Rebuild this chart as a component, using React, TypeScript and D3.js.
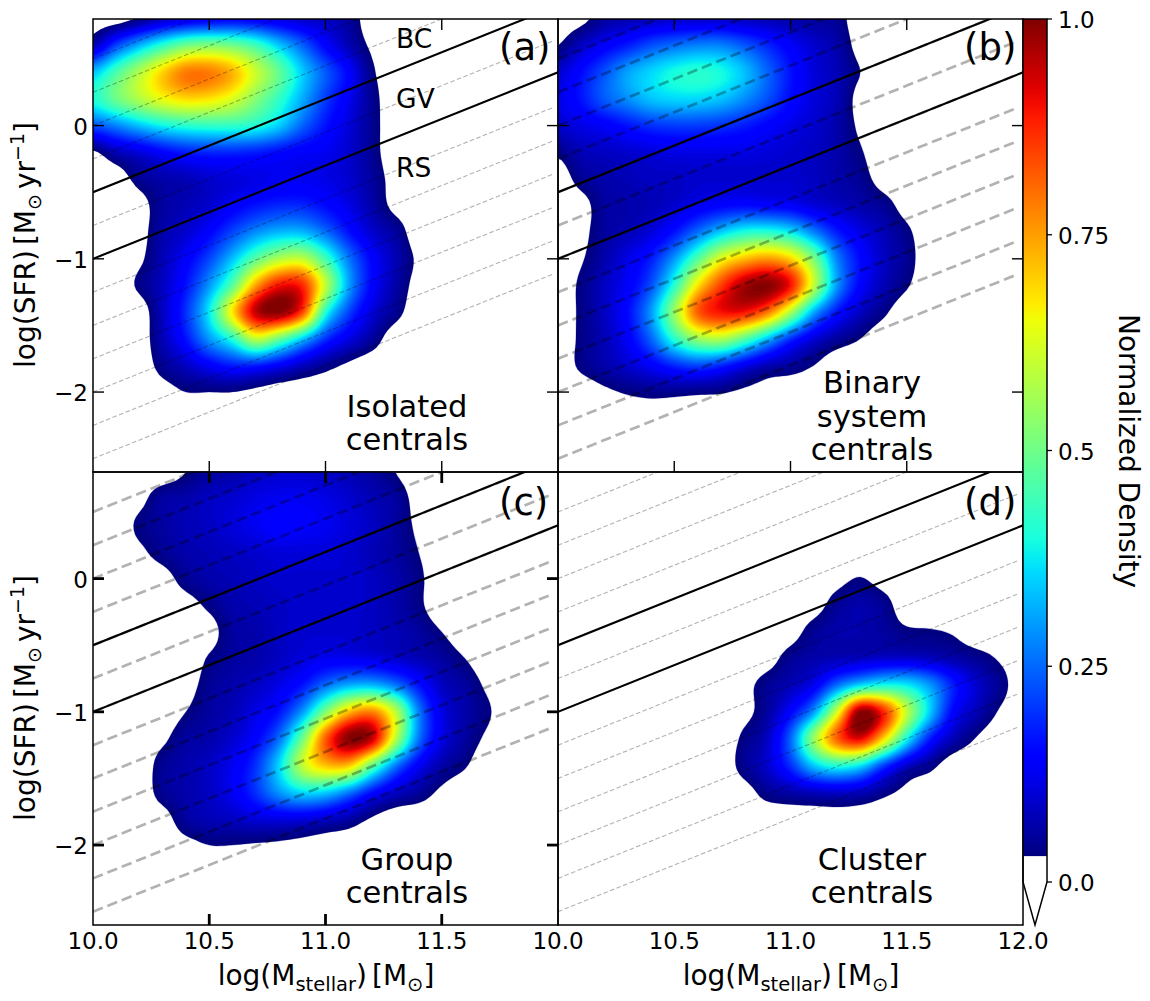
import { useMemo } from "react";
import * as d3 from "d3";

// grid of the density maps: one column every 0.1 dex, one row every 0.2 dex
const gridX = [10, 10.1, 10.2, 10.3, 10.4, 10.5, 10.6, 10.7, 10.8, 10.9, 11, 11.1, 11.2, 11.3, 11.4, 11.5, 11.6, 11.7, 11.8, 11.9, 12];
const gridY = [0.8, 0.6, 0.4, 0.2, 0, -0.2, -0.4, -0.6, -0.8, -1, -1.2, -1.4, -1.6, -1.8, -2, -2.2, -2.4, -2.6];

// density in percent, rows top to bottom, columns left to right; short rows are 0 further right
const isolatedDensity = [
  [0, 0, 4, 9, 12, 14, 15, 14, 12, 10, 9, 6, 0],
  [8, 22, 33, 43, 51, 53, 51, 45, 35, 25, 15, 8, 2],
  [34, 46, 58, 70, 79, 79, 73, 61, 49, 35, 24, 15, 4],
  [41, 50, 58, 65, 69, 68, 63, 53, 43, 32, 21, 13, 5],
  [23, 28, 34, 39, 42, 43, 43, 41, 35, 25, 17, 11, 5],
  [2, 8, 11, 15, 18, 19, 19, 18, 16, 14, 13, 10, 5],
  [0, 0, 5, 7, 8, 10, 11, 12, 13, 13, 12, 10, 6, 1],
  [0, 0, 1, 6, 8, 10, 14, 17, 19, 19, 16, 12, 7, 1.5],
  [0, 0, 1, 7, 10, 15, 22, 29, 33, 33, 26, 17, 10, 6],
  [0, 0, 2, 8, 14, 22, 34, 48, 58, 60, 45, 27, 15, 8, 2],
  [0, 0, 4, 9, 17, 30, 48, 75, 90, 88, 60, 31, 15, 7, 1],
  [0, 0, 0, 9, 20, 38, 68, 95, 100, 85, 42, 22, 11, 5],
  [0, 0, 0, 8, 17, 30, 42, 60, 50, 35, 20, 12, 6],
  [0, 0, 0, 5, 9, 14, 18, 18, 14, 9, 5, 2],
  [0, 0, 0, 1, 3, 3, 3, 1.5],
  [],
  [],
  [],
];

const binaryDensity = [
  [0, 1.5, 6, 8, 9, 10, 10, 10, 9, 8, 7, 6, 5],
  [3, 9, 14, 18, 23, 26, 28, 28, 24, 19, 14, 10, 7, 1],
  [10, 16, 23, 31, 36, 40, 42, 40, 34, 25, 17, 11, 8, 3],
  [12, 17, 24, 29, 34, 36, 36, 34, 29, 23, 16, 11, 8, 1],
  [10, 12, 14, 17, 20, 21, 21, 20, 18, 15, 12, 10, 7, 2],
  [4, 8, 9, 10, 11, 12, 12, 12, 12, 11, 10, 9, 7, 3.5],
  [0, 5, 7, 8, 9, 9, 10, 10, 10, 10, 10, 9, 7, 5, 1],
  [0, 1, 6, 7, 8, 10, 13, 15, 16, 15, 14, 11, 9, 7, 5, 1],
  [0, 1.5, 6, 8, 11, 17, 26, 35, 41, 42, 38, 28, 18, 12, 8, 4],
  [0, 2.5, 7, 12, 18, 30, 47, 64, 72, 76, 70, 52, 28, 16, 9, 5],
  [0, 4, 9, 14, 23, 42, 68, 85, 97, 100, 90, 60, 30, 15, 8, 3.5],
  [0, 4, 9, 16, 30, 55, 82, 90, 90, 80, 58, 32, 17, 9, 4],
  [0, 4, 8, 14, 25, 42, 55, 58, 48, 34, 20, 11, 6, 3],
  [0, 4, 7, 10, 14, 19, 22, 19, 13, 8, 6, 3],
  [0, 0, 2, 3.5, 4.5, 4.5, 4, 3.5, 2, 1],
  [],
  [],
  [],
];

const groupDensity = [
  [0, 0, 0, 0, 3, 6, 7, 9, 10, 10, 9, 8, 6, 3],
  [0, 0, 1.5, 6, 7, 9, 10, 12, 13, 13, 12, 10, 8, 6, 1],
  [0, 0, 4, 6, 8, 9, 11, 13, 15, 14, 13, 11, 9, 6, 2],
  [0, 0, 2, 5, 7, 8, 9, 10, 11, 11, 11, 10, 8, 6, 3],
  [0, 0, 0, 1, 5, 7, 8, 9, 10, 10, 10, 10, 9, 7, 4],
  [0, 0, 0, 0, 1, 4, 7, 8, 9, 10, 10, 10, 9, 7, 4],
  [0, 0, 0, 0, 0, 1, 6, 7, 9, 10, 10, 10, 9, 8, 6, 3],
  [0, 0, 0, 0, 0, 3.5, 6, 7, 9, 11, 13, 13, 12, 10, 8, 6, 3],
  [0, 0, 0, 0, 1, 5, 7, 9, 12, 17, 26, 32, 33, 27, 17, 9, 6, 2],
  [0, 0, 0, 0, 3, 6, 8, 12, 17, 30, 52, 72, 78, 60, 28, 12, 7, 3.5],
  [0, 0, 0, 2, 6, 7, 10, 15, 26, 50, 82, 100, 95, 60, 27, 12, 6, 2],
  [0, 0, 0, 5, 7, 9, 13, 20, 36, 60, 72, 72, 50, 28, 14, 7, 3.5],
  [0, 0, 0, 5, 7, 9, 13, 20, 30, 37, 36, 28, 17, 10, 6, 2],
  [0, 0, 0, 1, 6, 8, 9, 11, 12, 12, 10, 7, 2.5],
  [0, 0, 0, 0, 1.5, 3, 3, 2.5, 2, 1],
  [],
  [],
  [],
];

const clusterDensity = [
  [],
  [],
  [],
  [],
  [0, 0, 0, 0, 0, 0, 0, 0, 0, 0, 0, 0, 1.5, 3.2, 1],
  [0, 0, 0, 0, 0, 0, 0, 0, 0, 0, 0, 1, 5, 7, 5],
  [0, 0, 0, 0, 0, 0, 0, 0, 0, 0, 1, 5, 7, 7, 6, 4, 3.5, 2.5],
  [0, 0, 0, 0, 0, 0, 0, 0, 0, 1, 5, 7, 8, 9, 10, 10, 9, 7, 5, 2.5],
  [0, 0, 0, 0, 0, 0, 0, 0, 1.5, 5, 8, 13, 26, 36, 40, 38, 30, 18, 10, 5],
  [0, 0, 0, 0, 0, 0, 0, 0, 1.5, 6, 15, 30, 62, 100, 88, 60, 35, 15, 8, 2.5],
  [0, 0, 0, 0, 0, 0, 0, 0, 4, 9, 25, 55, 82, 92, 70, 40, 18, 8, 2.7],
  [0, 0, 0, 0, 0, 0, 0, 0, 5, 10, 20, 35, 42, 38, 22, 10, 5],
  [0, 0, 0, 0, 0, 0, 0, 0, 1, 5, 7, 9, 10, 9, 5, 1.5],
  [0, 0, 0, 0, 0, 0, 0, 0, 0, 0, 0.3, 0.5, 0.8, 0.5],
  [],
  [],
  [],
  [],
];

const xTicks = [10, 10.5, 11, 11.5];
const yTicks = [0, -1, -2];
const barTicks = [0, 0.25, 0.5, 0.75, 1];
const barTickLabels = ["0.0", "0.25", "0.5", "0.75", "1.0"];
// log(SFR) at log(M)=10 of the sloped guide lines
const guideOffsets = [0.5, 0.25, 0, -0.25, -0.5, -0.75, -1, -1.25, -1.5, -1.75, -2, -2.25, -2.5];
const boundaryOffsets = [-0.5, -1];
const guideSlope = 0.7;

const FONT = "DejaVu Sans";
const panelW = 465;
const panelH = 453;
const panelLeft = [93, 558];
const panelTop = [19, 472];
const upsample = 6;
const vMin = 0.03;

const xScale = d3.scaleLinear().domain([10, 12]).range([0, panelW]);
const yScale = d3.scaleLinear().domain([-2.6, 0.8]).range([panelH, 0]);

// matplotlib jet
const jetR = d3.scaleLinear().domain([0, 0.35, 0.66, 0.89, 1]).range([0, 0, 1, 1, 0.5]);
const jetG = d3.scaleLinear().domain([0, 0.125, 0.375, 0.64, 0.91, 1]).range([0, 0, 1, 1, 0, 0]);
const jetB = d3.scaleLinear().domain([0, 0.11, 0.34, 0.65, 1]).range([0.5, 1, 1, 0, 0]);
const jet = (t: number) => `rgb(${Math.round(jetR(t) * 255)},${Math.round(jetG(t) * 255)},${Math.round(jetB(t) * 255)})`;
// thin pale rim just below vMin, the image fades to white at its edge
const rimLevel = 0.029;
const densityColor = (v: number) => (v < vMin ? "#c4c4e2" : jet((v - vMin) / (1 - vMin)));

const levels = [rimLevel, ...d3.range(vMin, 1, 0.008)];

function catmull(a: number, b: number, c: number, d: number, t: number) {
  return 0.5 * (2 * b + (c - a) * t + (2 * a - 5 * b + 4 * c - d) * t * t + (3 * b - a - 3 * c + d) * t * t * t);
}

function refine(rows: number[][]) {
  const nx = gridX.length;
  const ny = gridY.length;
  const at = (i: number, j: number) => {
    const row = rows[Math.max(0, Math.min(ny - 1, j))];
    return (row[Math.max(0, Math.min(nx - 1, i))] ?? 0) / 100;
  };
  const w = (nx - 1) * upsample + 1;
  const h = (ny - 1) * upsample + 1;
  const out = new Array(w * h);
  for (let q = 0; q < h; q++) {
    const j = Math.floor(q / upsample);
    const v = q / upsample - j;
    for (let p = 0; p < w; p++) {
      const i = Math.floor(p / upsample);
      const u = p / upsample - i;
      const col = [-1, 0, 1, 2].map((dj) =>
        catmull(at(i - 1, j + dj), at(i, j + dj), at(i + 1, j + dj), at(i + 2, j + dj), u)
      );
      out[q * w + p] = Math.max(0, Math.min(1, catmull(col[0], col[1], col[2], col[3], v)));
    }
  }
  return { values: out, w, h };
}

function DensityMap({ rows }: { rows: number[][] }) {
  const paths = useMemo(() => {
    const { values, w, h } = refine(rows);
    const contours = d3.contours().size([w, h]).thresholds(levels)(values);
    const sx = d3.scaleLinear().domain([0.5, w - 0.5]).range([xScale(gridX[0]), xScale(gridX[gridX.length - 1])]);
    const sy = d3.scaleLinear().domain([0.5, h - 0.5]).range([yScale(gridY[0]), yScale(gridY[gridY.length - 1])]);
    const project = d3.geoTransform({
      point(x, y) {
        this.stream.point(sx(x), sy(y));
      },
    });
    const path = d3.geoPath(project);
    return contours.map((c) => ({ d: path(c) ?? "", fill: densityColor(c.value) }));
  }, [rows]);
  return (
    <g>
      {paths.map((p, i) => (
        <path key={i} d={p.d} fill={p.fill} />
      ))}
    </g>
  );
}

interface PanelProps {
  col: number;
  row: number;
  id: string;
  rows: number[][];
  title: string[];
  titleBaselines: number[];
  guideWidth: number;
  tickWidth: number;
  showTicks: boolean;
}

function Panel({ col, row, id, rows, title, titleBaselines, guideWidth, tickWidth, showTicks }: PanelProps) {
  const guideEnd = 11.98;
  const dash = guideWidth > 2 ? "10.5 5" : "4.6 2.4";
  const tickLen = 11;
  return (
    <g transform={`translate(${panelLeft[col]},${panelTop[row]})`}>
      <clipPath id={`clip-${id}`}>
        <rect width={panelW} height={panelH} />
      </clipPath>
      <g clipPath={`url(#clip-${id})`}>
        <DensityMap rows={rows} />
        {guideOffsets.map((o) => (
          <line
            key={o}
            x1={xScale(10)}
            x2={xScale(guideEnd)}
            y1={yScale(o)}
            y2={yScale(o + guideSlope * (guideEnd - 10))}
            stroke="#000"
            strokeOpacity={0.3}
            strokeWidth={guideWidth}
            strokeDasharray={dash}
          />
        ))}
        {boundaryOffsets.map((o) => (
          <line
            key={o}
            x1={xScale(10)}
            x2={xScale(12)}
            y1={yScale(o)}
            y2={yScale(o + guideSlope * 2)}
            stroke="#000"
            strokeWidth={2.1}
          />
        ))}
      </g>
      {showTicks &&
        xTicks.slice(1).map((t) => (
          <g key={t} stroke="#000" strokeWidth={tickWidth}>
            <line x1={xScale(t)} x2={xScale(t)} y1={0} y2={tickLen} />
            <line x1={xScale(t)} x2={xScale(t)} y1={panelH} y2={panelH - tickLen} />
          </g>
        ))}
      {showTicks &&
        yTicks.map((t) => (
          <g key={t} stroke="#000" strokeWidth={tickWidth}>
            <line x1={0} x2={tickLen} y1={yScale(t)} y2={yScale(t)} />
            <line x1={panelW} x2={panelW - tickLen} y1={yScale(t)} y2={yScale(t)} />
          </g>
        ))}
      <rect width={panelW} height={panelH} fill="none" stroke="#000" strokeWidth={1.5} />
      <text x={406} y={row === 0 ? 41 : 43} fontSize={37} fontFamily={FONT}>
        {`(${id})`}
      </text>
      {title.map((s, i) => (
        <text key={s} x={314} y={titleBaselines[i]} fontSize={30.5} fontFamily={FONT} textAnchor="middle">
          {s}
        </text>
      ))}
    </g>
  );
}

function YLabel({ cy }: { cy: number }) {
  return (
    <text transform={`translate(35,${cy}) rotate(-90)`} fontFamily={FONT} fontSize={28} textAnchor="middle">
      log(SFR)
      <tspan dx={5}>[M</tspan>
      <tspan fontSize={19} dy={6}>⊙</tspan>
      <tspan dy={-6} dx={5}>yr</tspan>
      <tspan fontSize={19} dy={-11}>−1</tspan>
      <tspan dy={11}>]</tspan>
    </text>
  );
}

function XLabel({ cx }: { cx: number }) {
  return (
    <text x={cx} y={985} fontFamily={FONT} fontSize={28} textAnchor="middle">
      log(M
      <tspan fontSize={19.5} dy={6}>stellar</tspan>
      <tspan dy={-6}>)</tspan>
      <tspan dx={5}>[M</tspan>
      <tspan fontSize={19.5} dy={6}>⊙</tspan>
      <tspan dy={-6}>]</tspan>
    </text>
  );
}

export default function App() {
  const barY = d3.scaleLinear().domain([0, 1]).range([882, 19]);
  const barX0 = 1023;
  const barX1 = 1047;
  const stops = d3.range(0, 1.0001, 0.02);
  return (
    <svg width={1150} height={1001} style={{ position: "absolute", left: 0, top: 0, display: "block" }}>
      <rect width={1150} height={1001} fill="#fff" />
      <Panel col={0} row={0} id="a" rows={isolatedDensity} title={["Isolated", "centrals"]} titleBaselines={[398, 431]} guideWidth={1.1} tickWidth={1.4} showTicks />
      <Panel col={1} row={0} id="b" rows={binaryDensity} title={["Binary", "system", "centrals"]} titleBaselines={[374, 408, 441]} guideWidth={2.7} tickWidth={1.4} showTicks />
      <Panel col={0} row={1} id="c" rows={groupDensity} title={["Group", "centrals"]} titleBaselines={[398, 431]} guideWidth={2.7} tickWidth={2.8} showTicks />
      <Panel col={1} row={1} id="d" rows={clusterDensity} title={["Cluster", "centrals"]} titleBaselines={[398, 431]} guideWidth={1.1} tickWidth={1.4} showTicks={false} />

      {[["BC", 48], ["GV", 108], ["RS", 177]].map(([s, y]) => (
        <text key={s as string} x={396} y={y as number} fontSize={26.5} fontFamily={FONT}>
          {s}
        </text>
      ))}

      {panelTop.map((top) =>
        yTicks.map((t) => (
          <text key={`${top}${t}`} x={88} y={top + yScale(t) + 9} fontSize={23} fontFamily={FONT} textAnchor="end">
            {t === 0 ? "0" : `−${Math.abs(t)}`}
          </text>
        ))
      )}
      {xTicks.map((t) => (
        <text key={t} x={panelLeft[0] + xScale(t)} y={949} fontSize={23} fontFamily={FONT} textAnchor="middle">
          {t.toFixed(1)}
        </text>
      ))}
      {[...xTicks, 12].map((t) => (
        <text key={t} x={panelLeft[1] + xScale(t)} y={949} fontSize={23} fontFamily={FONT} textAnchor="middle">
          {t.toFixed(1)}
        </text>
      ))}
      <XLabel cx={326} />
      <XLabel cx={791} />
      <YLabel cy={245} />
      <YLabel cy={698} />

      <defs>
        <linearGradient id="jet-bar" x1={0} x2={0} y1={1} y2={0}>
          {stops.map((s) => (
            <stop key={s} offset={s} stopColor={jet(s)} />
          ))}
        </linearGradient>
      </defs>
      <rect x={barX0} y={barY(1)} width={barX1 - barX0} height={barY(vMin) - barY(1)} fill="url(#jet-bar)" />
      <path
        d={`M${barX0},${barY(1)}H${barX1}V${barY(0)}L${(barX0 + barX1) / 2},925L${barX0},${barY(0)}Z`}
        fill="none"
        stroke="#000"
        strokeWidth={1.5}
      />
      {barTicks.map((t, i) => (
        <g key={t}>
          <line x1={barX1} x2={barX1 + 5} y1={barY(t)} y2={barY(t)} stroke="#000" strokeWidth={1.3} />
          <text x={1058} y={barY(t) + 9} fontSize={23} fontFamily={FONT}>
            {barTickLabels[i]}
          </text>
        </g>
      ))}
      <text transform="translate(1119,451) rotate(90)" fontSize={28} fontFamily={FONT} textAnchor="middle">
        Normalized Density
      </text>
    </svg>
  );
}
